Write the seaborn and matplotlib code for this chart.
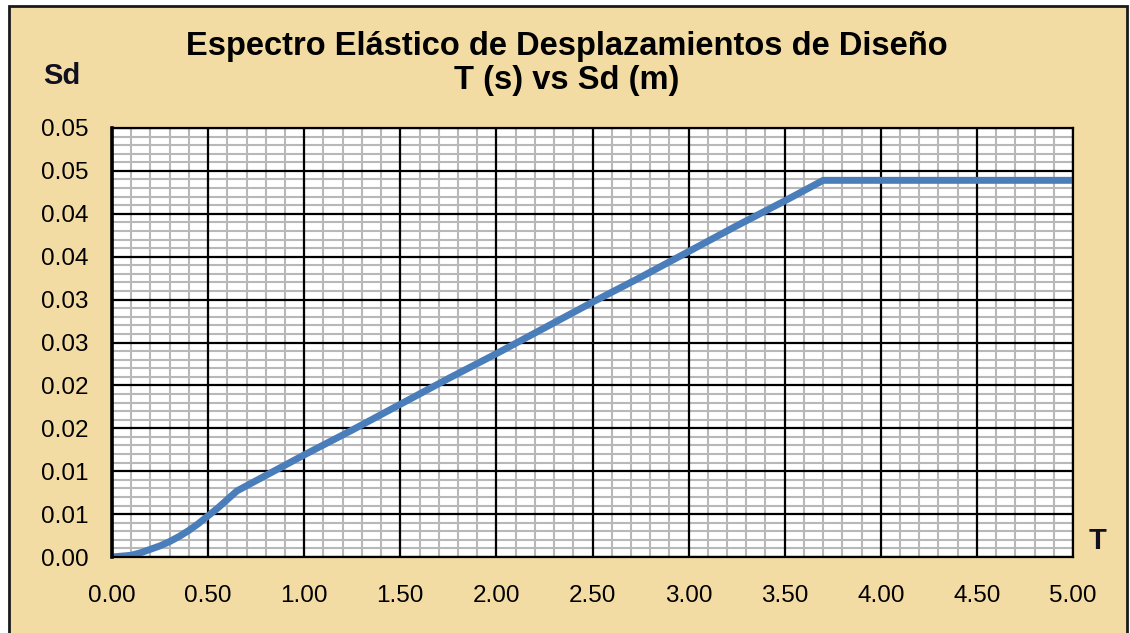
import matplotlib
matplotlib.use("Agg")
import matplotlib.pyplot as plt
import seaborn as sns
import pandas as pd
from matplotlib.patches import Rectangle
from matplotlib.ticker import MultipleLocator, FixedLocator

# Elastic design displacement spectrum, period T (s) vs Sd (m)
periodo = [0.00, 0.05, 0.10, 0.15, 0.20, 0.25, 0.30, 0.35, 0.40, 0.45, 0.50,
           0.55, 0.60, 0.65, 0.75, 1.00, 1.25, 1.50, 1.75, 2.00, 2.25, 2.50,
           2.75, 3.00, 3.25, 3.50, 3.70, 4.00, 4.50, 5.00]
desplazamiento = [0.0000, 0.0001, 0.0002, 0.0005, 0.0009, 0.0013, 0.0018,
                  0.0024, 0.0031, 0.0039, 0.0048, 0.0057, 0.0067, 0.0077,
                  0.0089, 0.0119, 0.0148, 0.0178, 0.0208, 0.0237, 0.0267,
                  0.0297, 0.0326, 0.0356, 0.0386, 0.0415, 0.0439, 0.0439,
                  0.0439, 0.0439]

x_ticks = [0.0, 0.5, 1.0, 1.5, 2.0, 2.5, 3.0, 3.5, 4.0, 4.5, 5.0]
x_tick_labels = ["0.00", "0.50", "1.00", "1.50", "2.00", "2.50", "3.00",
                 "3.50", "4.00", "4.50", "5.00"]
y_ticks = [0.000, 0.005, 0.010, 0.015, 0.020, 0.025, 0.030, 0.035, 0.040,
           0.045, 0.050]
y_tick_labels = ["0.00", "0.01", "0.01", "0.02", "0.02", "0.03", "0.03",
                 "0.04", "0.04", "0.05", "0.05"]

titulo_1 = "Espectro Elástico de Desplazamientos de Diseño"
titulo_2 = "T (s) vs Sd (m)"

sns.set_style("white")
plt.rcParams["font.family"] = ["Liberation Sans", "DejaVu Sans"]

W, H = 1130, 633
fig = plt.figure(figsize=(W / 100, H / 100), dpi=100, facecolor="white")

# parchment-coloured chart area with a dark frame
fig.patches.append(Rectangle((9 / W, -0.01), (1127 - 9) / W, (627 + 6) / H,
                             transform=fig.transFigure, facecolor="#F3DCA4",
                             edgecolor="#1a1a1a", linewidth=2, zorder=-10))

ax = fig.add_axes([112 / W, 1 - 557 / H, (1073 - 112) / W, (557 - 128) / H])
ax.set_facecolor("white")

x_min, x_max = x_ticks[0], x_ticks[-1]
y_min, y_max = y_ticks[0], y_ticks[-1]

# fine grey grid underneath, black major grid on top of it
ax.xaxis.set_minor_locator(MultipleLocator(0.1))
ax.yaxis.set_minor_locator(MultipleLocator(0.001))
ax.grid(which="minor", color="#B8B8B8", linewidth=1.5, linestyle="-")
ax.grid(which="major", visible=False)
ax.set_axisbelow(True)
ax.vlines(x_ticks, y_min, y_max, colors="black", linewidth=1.6, zorder=2)
ax.hlines(y_ticks, x_min, x_max, colors="black", linewidth=1.6, zorder=2)

df = pd.DataFrame({"T": periodo, "Sd": desplazamiento})
sns.lineplot(data=df, x="T", y="Sd", ax=ax, color="#4A7EBB", linewidth=5,
             solid_capstyle="butt", zorder=5)

ax.set_xlim(x_min, x_max)
ax.set_ylim(y_min, y_max)
ax.xaxis.set_major_locator(FixedLocator(x_ticks))
ax.yaxis.set_major_locator(FixedLocator(y_ticks))
ax.set_xticklabels(x_tick_labels)
ax.set_yticklabels(y_tick_labels)

ax.tick_params(which="major", direction="out", length=7, width=1.6,
               color="black", labelsize=17.5, labelcolor="black")
ax.tick_params(axis="y", pad=10)
ax.tick_params(axis="x", pad=13)
ax.tick_params(which="minor", length=0)

for name, sp in ax.spines.items():
    sp.set_visible(True)
    sp.set_color("black")
    sp.set_linewidth(1.6)
    sp.set_zorder(6)
ax.spines["left"].set_linewidth(2.6)

ax.set_xlabel("")
ax.set_ylabel("")

fig.text(567 / W, 1 - 46 / H, titulo_1, ha="center", va="center",
         fontsize=23.5, fontweight="bold", color="black")
fig.text(567 / W, 1 - 81 / H, titulo_2, ha="center", va="center",
         fontsize=23.5, fontweight="bold", color="black")

fig.text(62 / W, 1 - 76 / H, "Sd", ha="center", va="center",
         fontsize=21, fontweight="bold", color="#101020")
fig.text(1098 / W, 1 - 541 / H, "T", ha="center", va="center",
         fontsize=21, fontweight="bold", color="#101020")

fig.savefig("out.png", dpi=100, facecolor=fig.get_facecolor())
